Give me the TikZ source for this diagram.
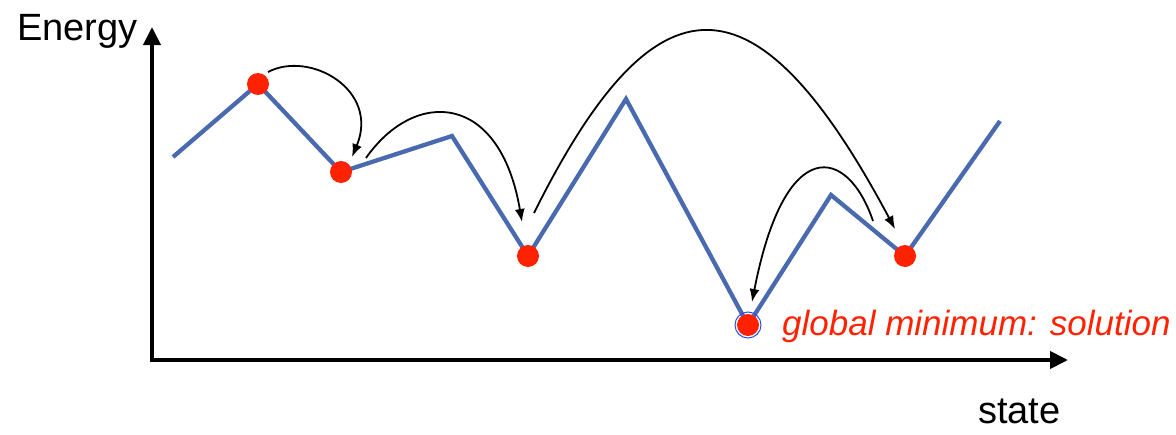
\documentclass[tikz,border=0pt]{standalone}
\usepackage{fontspec}
\setmainfont{Liberation Sans}
\usetikzlibrary{arrows.meta,calc}
\definecolor{curveblue}{RGB}{74,106,176}
\definecolor{dotred}{RGB}{255,34,0}
\definecolor{ringblue}{RGB}{40,80,230}
\begin{document}
\begin{tikzpicture}[x=1pt,y=-1pt,
  axis/.style={line width=4pt,-{Triangle[length=18pt,width=17pt]}},
  land/.style={curveblue,line width=4.3pt},
  dot/.style={circle,fill=dotred,minimum size=22pt,inner sep=0pt,outer sep=0pt},
  jump/.style={line width=1.8pt,-{Latex[length=13pt,width=10pt]}},
  lab/.style={inner sep=0pt,font=\fontsize{38}{44}\selectfont},
  redlab/.style={inner sep=0pt,text=dotred,font=\fontsize{35}{42}\selectfont\itshape}]
\useasboundingbox (0,0) rectangle (1176,434);
% axes
\coordinate (oy) at (152,362);
\coordinate (ytop) at (152,27);
\coordinate (ox) at (150,360);
\coordinate (xend) at (1068,360);
\draw[axis] (oy) -- (ytop);
\draw[axis] (ox) -- (xend);
\node[lab,anchor=base west] (energy) at (17,40) {Energy};
\node[lab,anchor=base west] (state) at (978,423) {state};
% landscape
\coordinate (p0) at (173,157);
\coordinate (p1) at (258,84);
\coordinate (p2) at (341,172);
\coordinate (p3) at (452,136);
\coordinate (p4) at (528,256);
\coordinate (p5) at (626,99);
\coordinate (p6) at (748,325);
\coordinate (p7) at (831,195);
\coordinate (p8) at (905,256);
\coordinate (p9) at (1000,121);
\draw[land] (p0) -- (p1) -- (p2) -- (p3) -- (p4) -- (p5) -- (p6) -- (p7) -- (p8) -- (p9);
% states
\node[dot] (d1) at (p1) {};
\node[dot] (d2) at (p2) {};
\node[dot] (d3) at (p4) {};
\node[circle,draw=ringblue,line width=1pt,minimum size=26pt,inner sep=0pt] (ring) at (p6) {};
\node[dot] (d4) at (p6) {};
\node[dot] (d5) at (p8) {};
\node[redlab,anchor=base west] (glob) at (782,335) {global minimum: solution};
% jumps
\coordinate (a1s) at ($(d1)+(10,-12)$);
\coordinate (a1e) at ($(d2)+(11,-15)$);
\coordinate (a2s) at ($(d2)+(25,-14)$);
\coordinate (a2e) at ($(d3)+(-6,-34)$);
\coordinate (a3s) at ($(d3)+(6,-43)$);
\coordinate (a3e) at ($(d5)+(-10,-27)$);
\coordinate (a4s) at ($(d5)+(-32,-35)$);
\coordinate (a4e) at ($(d4)+(4,-23)$);
\draw[jump] (a1s) .. controls +(42,-22) and +(28,-67) .. (a1e);
\draw[jump] (a2s) .. controls +(49,-70) and +(-22,-130) .. (a2e);
\draw[jump] (a3s) .. controls +(122,-245) and +(-139,-261) .. (a3e);
\draw[jump] (a4s) .. controls +(-25,-74) and +(33,-170) .. (a4e);
\end{tikzpicture}
\end{document}
